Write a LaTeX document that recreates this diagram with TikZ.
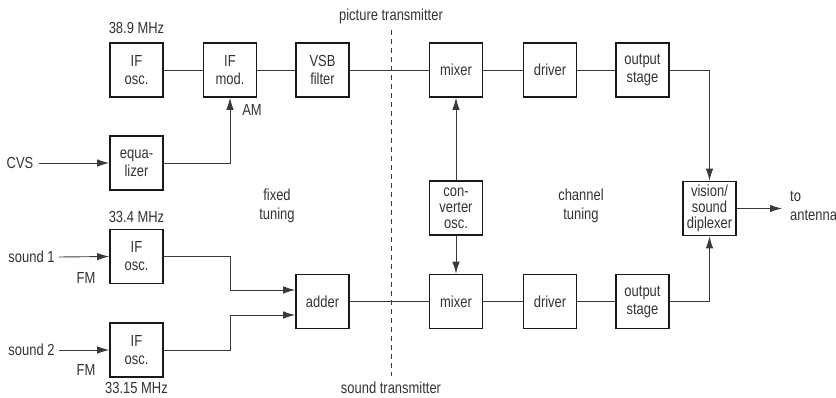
\documentclass[tikz,border=0pt]{standalone}
\usepackage{fontspec}
\setmainfont{Liberation Sans}[FakeStretch=0.81]
\usetikzlibrary{arrows.meta}
\definecolor{txt}{HTML}{333333}
\definecolor{ln}{HTML}{3A3A3A}
\begin{document}
\begin{tikzpicture}[x=1pt,y=-1pt,
  blk/.style={draw=black!90,line width=1.6pt,minimum width=53pt,minimum height=54pt,inner sep=0pt,
    align=center,text=txt,font=\fontsize{16}{18}\selectfont},
  lbl/.style={text=txt,font=\fontsize{16}{18.5}\selectfont,inner sep=0pt,align=center},
  con/.style={draw=ln,line width=0.9pt},
  arr/.style={con,-{Latex[length=12pt,width=7.5pt]}}]
\useasboundingbox (0,0) rectangle (836,397);
% picture transmitter row
\node[blk] (ifo1) at (136.5,70) {IF\\osc.};
\node[blk] (ifm) at (230,70) {IF\\mod.};
\node[blk] (vsb) at (322.5,70) {VSB\\filter};
\node[blk] (mix1) at (456,70) {mixer};
\node[blk] (drv1) at (550,70) {driver};
\node[blk] (out1) at (642.5,70) {output\\stage};
\node[blk] (eq) at (136.5,163) {equa-\\lizer};
\node[blk,font=\fontsize{16}{16}\selectfont] (conv) at (456,208) {con-\\verter\\osc.};
\node[blk,font=\fontsize{16}{16}\selectfont] (dip) at (709.5,208.5) {vision/\\sound\\diplexer};
% sound row
\node[blk] (ifo2) at (136.5,256.5) {IF\\osc.};
\node[blk] (ifo3) at (136.5,350) {IF\\osc.};
\node[blk] (add) at (322.5,301.5) {adder};
\node[blk] (mix2) at (456,301.5) {mixer};
\node[blk] (drv2) at (550,301.5) {driver};
\node[blk] (out2) at (642.5,301.5) {output\\stage};
% labels
\node[lbl] (f1) at (136.5,28) {38.9 MHz};
\node[lbl] (am) at (252,110) {AM};
\node[lbl] (cvs) at (20,163) {CVS};
\node[lbl] (fixed) at (277,206) {fixed\\tuning};
\node[lbl] (chan) at (581,206) {channel\\tuning};
\node[lbl] (pt) at (391,16) {picture transmitter};
\node[lbl] (st) at (391,388) {sound transmitter};
\node[lbl] (f2) at (136.5,217) {33.4 MHz};
\node[lbl] (f3) at (136.5,388) {33.15 MHz};
\node[lbl] (s1) at (31.5,257) {sound 1};
\node[lbl] (s2) at (31.5,350) {sound 2};
\node[lbl] (fm1) at (86,278) {FM};
\node[lbl] (fm2) at (86,370) {FM};
\node[lbl,align=left,anchor=west] (ant) at (790,206) {to\\antenna};
% dashed divider
\coordinate (dtop) at (391,30);
\coordinate (dbot) at (391,376);
\draw[draw=ln,line width=0.8pt,dash pattern=on 5pt off 4pt] (dtop) -- (dbot);
% connectors
\draw[con] (ifo1) -- (ifm);
\draw[con] (ifm) -- (vsb);
\draw[con] (vsb) -- (mix1);
\draw[con] (mix1) -- (drv1);
\draw[con] (drv1) -- (out1);
\draw[arr] (out1.east) -| (dip.north);
\draw[arr] (cvs.east) ++(5,0) -- (eq.west);
\draw[arr] (eq.east) -| (ifm.south);
\draw[arr] (conv) -- (mix1);
\draw[arr] (conv) -- (mix2);
\draw[arr] (s1.east) ++(4,0) -- (ifo2.west);
\draw[arr] (s2.east) ++(4,0) -- (ifo3.west);
\coordinate (a1) at (230,290);
\coordinate (a2) at (230,315);
\draw[arr] (ifo2.east) -| (a1) -- (add.west |- a1);
\draw[arr] (ifo3.east) -| (a2) -- (add.west |- a2);
\draw[con] (add) -- (mix2);
\draw[con] (mix2) -- (drv2);
\draw[con] (drv2) -- (out2);
\draw[arr] (out2.east) -| (dip.south);
\coordinate (antend) at (782,208.5);
\draw[arr] (dip.east) -- (antend);
\end{tikzpicture}
\end{document}
